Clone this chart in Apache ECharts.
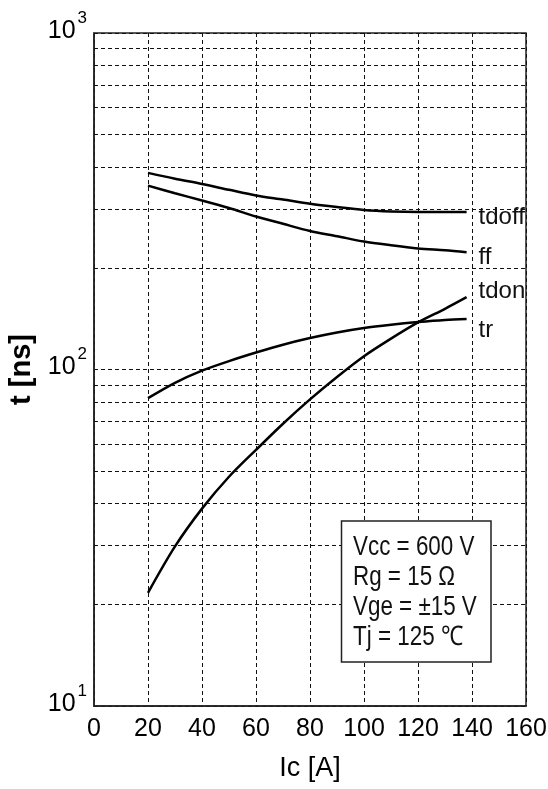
<!DOCTYPE html>
<html>
<head>
<meta charset="utf-8">
<script src="https://cdn.jsdelivr.net/npm/echarts@6/dist/echarts.min.js"></script>
<style>
  html, body { margin: 0; padding: 0; background: #fff; }
  #chart { width: 548px; height: 789px; }
</style>
</head>
<body>
<div id="chart"></div>
<script>
// collector current Ic [A], shared by all curves
const ic = [20, 30, 40, 50, 60, 70, 80, 90, 100, 110, 120, 130, 138]

// switching times [ns]
const tdoff = [384, 369, 356, 342, 329, 320, 311, 304, 298, 295, 294, 294, 294]
const tf = [352, 334, 318, 302, 285, 271, 258, 249, 240, 234, 229, 226, 223]
const tdon = [21.7, 29.8, 38.6, 48, 57.7, 69, 81.5, 95, 109.5, 123.5, 138, 151.5, 164]
const tr = [82.2, 91.3, 99.2, 105.9, 112.3, 118.5, 124, 128.8, 132.8, 135.8, 138.3, 140.3, 141.2]

// minor log grid lines
const minorGrid = [20, 30, 40, 50, 60, 70, 80, 90, 200, 300, 400, 500, 600, 700, 800, 900]

const conditions = ['Vcc = 600 V', 'Rg = 15 Ω', 'Vge = ±15 V', 'Tj = 125 ℃']

const FONT = "'Liberation Sans', Arial, sans-serif"
const dash = { color: '#111', width: 1, type: [4, 3] }

const chart = echarts.init(document.getElementById('chart'))

function curve(name, label, values, labelOffset) {
  return {
    type: 'line',
    name,
    data: ic.map((x, i) => [x, values[i]]),
    smooth: 0.3,
    showSymbol: false,
    silent: true,
    lineStyle: { color: '#000', width: 2.5 },
    endLabel: {
      show: true,
      formatter: label,
      distance: 12,
      offset: labelOffset,
      color: '#111',
      fontSize: 24,
      fontFamily: FONT
    }
  }
}

const series = [
  curve('tdoff', 'tdoff', tdoff, [0, 5]),
  curve('tf', 'ff', tf, [0, 5]),
  curve('tdon', 'tdon', tdon, [0, -6]),
  curve('tr', 'tr', tr, [0, 11])
]
series[0].markLine = {
  silent: true,
  symbol: 'none',
  label: { show: false },
  lineStyle: dash,
  data: minorGrid.map(v => ({ yAxis: v }))
}

chart.setOption({
  animation: false,
  grid: {
    left: 94, right: 22, top: 33, bottom: 83,
    show: true, borderColor: '#222', borderWidth: 1.5,
    containLabel: false, outerBoundsMode: 'none'
  },
  xAxis: {
    type: 'value', min: 0, max: 160, interval: 20,
    name: 'Ic [A]', nameLocation: 'middle', nameGap: 49,
    nameTextStyle: { fontSize: 27, color: '#000', fontFamily: FONT },
    axisLine: { show: true, lineStyle: { color: '#222', width: 1.5 } },
    axisTick: { show: false },
    axisLabel: { fontSize: 25, color: '#000', fontFamily: FONT, margin: 11 },
    splitLine: { show: true, lineStyle: dash }
  },
  yAxis: {
    type: 'log', logBase: 10, min: 10, max: 1000,
    name: 't [ns]', nameLocation: 'middle', nameGap: 52, nameRotate: 90,
    nameTextStyle: { fontSize: 29, fontWeight: 'bold', color: '#000', fontFamily: FONT },
    axisLine: { show: true, lineStyle: { color: '#222', width: 1.5 } },
    axisTick: { show: false },
    axisLabel: {
      margin: 7,
      formatter: v => '{b|10}{s|' + Math.round(Math.log10(v)) + '}',
      rich: {
        b: { fontSize: 25, color: '#000', fontFamily: FONT, padding: [0, 0, 4, 0] },
        s: { fontSize: 17, color: '#000', fontFamily: FONT, padding: [0, 0, 30, 2] }
      }
    },
    splitLine: { show: true, lineStyle: dash }
  },
  graphic: [
    {
      type: 'rect',
      shape: { x: 341.5, y: 521, width: 149.5, height: 141 },
      style: { fill: '#fff', stroke: '#222', lineWidth: 1.5 },
      z: 50
    },
    {
      type: 'text',
      x: 353, y: 532,
      scaleX: 0.83,
      style: {
        text: conditions.join('\n'),
        fontSize: 27, lineHeight: 30.2,
        fontFamily: FONT, fill: '#111',
        verticalAlign: 'top'
      },
      z: 51
    }
  ],
  series
})
</script>
</body>
</html>
